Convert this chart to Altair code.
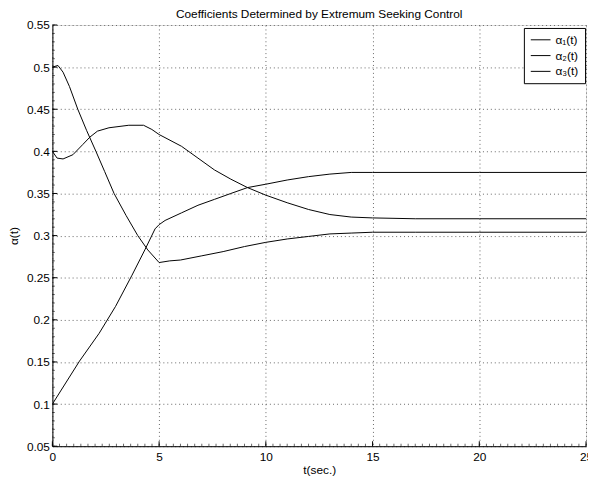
import altair as alt
import pandas as pd

# ---- data ----
series_names = ["α₁(t)", "α₂(t)", "α₃(t)"]

t_a1 = [0, 0.26, 0.5, 0.8, 1.19, 1.6, 2.04, 2.45, 2.89, 3.45, 4.0, 4.47, 5.0, 5.5, 6.0, 7.0, 8.0, 9.0, 10.0, 11.0, 12.0, 13.0, 14.0, 15.0, 17.0, 20.0, 25.0]
v_a1 = [0.500, 0.502, 0.494, 0.477, 0.450, 0.425, 0.400, 0.376, 0.350, 0.324, 0.300, 0.283, 0.268, 0.270, 0.271, 0.276, 0.281, 0.287, 0.292, 0.296, 0.299, 0.302, 0.303, 0.304, 0.304, 0.304, 0.304]

t_a2 = [0, 0.22, 0.5, 0.96, 1.42, 1.76, 2.11, 2.65, 3.58, 4.27, 4.66, 5.0, 6.05, 6.82, 7.59, 8.36, 9.14, 10.0, 11.0, 12.0, 13.0, 14.0, 15.0, 17.0, 20.0, 25.0]
v_a2 = [0.400, 0.392, 0.391, 0.396, 0.408, 0.417, 0.424, 0.428, 0.431, 0.431, 0.426, 0.420, 0.406, 0.392, 0.378, 0.367, 0.357, 0.348, 0.339, 0.331, 0.325, 0.322, 0.321, 0.320, 0.320, 0.320]

t_a3 = [0, 1.27, 2.19, 2.96, 3.73, 4.35, 4.81, 5.0, 5.28, 6.05, 6.82, 7.59, 8.36, 9.14, 10.0, 11.0, 12.0, 13.0, 14.0, 15.0, 20.0, 25.0]
v_a3 = [0.100, 0.151, 0.184, 0.216, 0.253, 0.284, 0.308, 0.313, 0.318, 0.327, 0.336, 0.343, 0.350, 0.357, 0.361, 0.366, 0.370, 0.373, 0.375, 0.375, 0.375, 0.375]

x_ticks = [0, 5, 10, 15, 20, 25]
y_ticks = [0.05, 0.1, 0.15, 0.2, 0.25, 0.3, 0.35, 0.4, 0.45, 0.5, 0.55]
x_minor = [i / 3 for i in range(76)]
y_minor = [round(0.05 + i * 0.01, 2) for i in range(51)]

title_text = "Coefficients Determined by Extremum Seeking Control"

rows = []
for name, ts, vs in zip(series_names, [t_a1, t_a2, t_a3], [v_a1, v_a2, v_a3]):
    for t, v in zip(ts, vs):
        rows.append({"t": t, "v": v, "s": name})
df = pd.DataFrame(rows)

W, H = 541, 427
FONT = "Liberation Sans"

xs = alt.Scale(domain=[0, 25], nice=False, zero=False)
ys = alt.Scale(domain=[0.05, 0.55], nice=False, zero=False)

x_axis = alt.Axis(
    title="t(sec.)", values=x_ticks, format="d", tickSize=0, ticks=False,
    labelPadding=6, grid=True, gridDash=[1, 3], gridColor="#666666",
    domainColor="black", labelColor="black", labelFont=FONT, labelFontSize=12,
    titleFont=FONT, titleFontSize=12, titleFontWeight="normal", titleColor="black",
    titleY=28, titleBaseline="alphabetic", labelFlush=False)
y_axis = alt.Axis(
    title="α(t)", values=y_ticks, format=".2~f", tickSize=0, ticks=False,
    labelPadding=3, grid=True, gridDash=[1, 3], gridColor="#666666",
    domainColor="black", labelColor="black", labelFont=FONT, labelFontSize=12,
    titleFont=FONT, titleFontSize=12, titleFontWeight="normal", titleColor="black",
    titleX=-39, titleY=H / 2, titleAngle=270, titleBaseline="middle", titleAlign="center")

lines = alt.Chart(df).mark_line(strokeWidth=1, clip=True).encode(
    x=alt.X("t:Q", scale=xs, axis=x_axis),
    y=alt.Y("v:Q", scale=ys, axis=y_axis),
    color=alt.Color("s:N", scale=alt.Scale(domain=series_names, range=["black", "black", "black"]),
                    legend=alt.Legend(title=None, orient="none", legendX=478, legendY=3,
                                      symbolType="M-1,0H3", symbolSize=100, symbolStrokeWidth=1,
                                      symbolStrokeColor="black", labelOffset=14,
                                      labelFont=FONT, labelFontSize=12, labelColor="black",
                                      strokeColor="black", fillColor="white", padding=6,
                                      rowPadding=4)),
    order="t:Q",
)

ymaj = alt.Chart(pd.DataFrame({"v": y_ticks})).mark_rule(color="black", strokeWidth=1).encode(
    y=alt.Y("v:Q", scale=ys, axis=y_axis), x=alt.value(0), x2=alt.value(5))
ymin = alt.Chart(pd.DataFrame({"v": y_minor})).mark_rule(color="black", strokeWidth=1, opacity=0.6).encode(
    y=alt.Y("v:Q", scale=ys, axis=y_axis), x=alt.value(0), x2=alt.value(2.5))
xmaj = alt.Chart(pd.DataFrame({"t": x_ticks})).mark_rule(color="black", strokeWidth=1).encode(
    x=alt.X("t:Q", scale=xs, axis=x_axis), y=alt.value(H), y2=alt.value(H - 5))
xmin = alt.Chart(pd.DataFrame({"t": x_minor})).mark_rule(color="black", strokeWidth=1, opacity=0.6).encode(
    x=alt.X("t:Q", scale=xs, axis=x_axis), y=alt.value(H), y2=alt.value(H - 2.5))

chart = alt.layer(lines, ymin, xmin, ymaj, xmaj).properties(
    width=W, height=H,
    title=alt.TitleParams(text=title_text, font=FONT, fontSize=12, fontWeight="normal",
                          color="black", anchor="middle", offset=2, dy=4),
    autosize=alt.AutoSizeParams(type="none"),
    padding={"left": 45, "top": 14, "right": 2, "bottom": 29},
).configure_view(stroke=None).configure(background="white")

chart.save("out.html", embed_options={"renderer": "svg", "actions": False})
